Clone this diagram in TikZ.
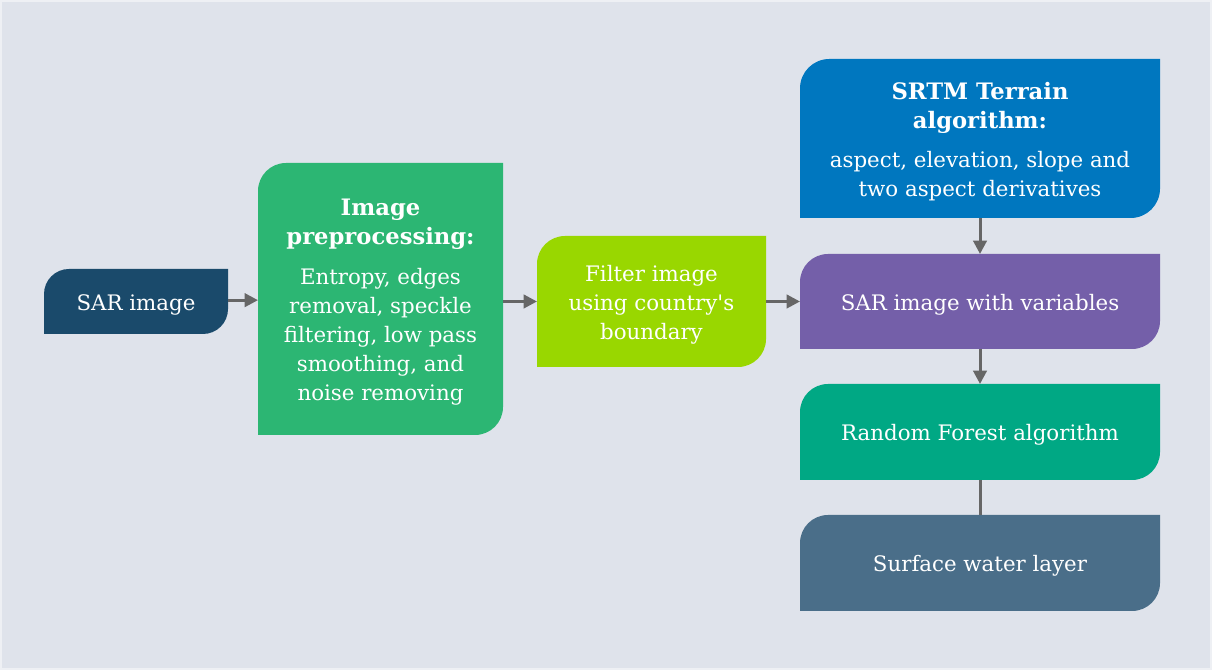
\documentclass[tikz,border=0pt]{standalone}
\usepackage{fontspec}
\setmainfont{DejaVu Serif}
\usetikzlibrary{arrows.meta,backgrounds}

\definecolor{canvas}{HTML}{DFE3EB}
\definecolor{canvasedge}{HTML}{EEF0F4}
\definecolor{sarblue}{HTML}{1A4A6B}
\definecolor{prepgreen}{HTML}{2CB673}
\definecolor{filterlime}{HTML}{99D700}
\definecolor{srtmblue}{HTML}{0077BF}
\definecolor{varpurple}{HTML}{745FA9}
\definecolor{rfgreen}{HTML}{00A884}
\definecolor{waterslate}{HTML}{4A6E89}
\definecolor{linkgray}{HTML}{666666}

% card with rounded top-left and bottom-right corners, drawn behind a node
\newcommand\leafcard[3]{%
  \fill[#2] (#1.south west) -- ([yshift=-#3]#1.north west)
    arc[start angle=180,end angle=90,radius=#3] -- (#1.north east)
    -- ([yshift=#3]#1.south east)
    arc[start angle=0,end angle=-90,radius=#3] -- cycle;}
% bold heading lines inside a card
\newcommand\cardhead[1]{{\fontsize{17}{21.75}\selectfont\bfseries #1}}

\tikzset{
  card/.style={inner sep=0pt, outer sep=0pt},
  cardtext/.style={inner sep=0pt, text=white, align=center, yshift=-2.25pt,
    font=\fontsize{16}{21.75}\selectfont},
  caption/.style={label={[cardtext]center:{#1}}},
  link/.style={draw=linkgray, line width=2.25pt},
  arrowlink/.style={link, -{Triangle[length=10pt,width=10pt]}},
}

\begin{document}
\begin{tikzpicture}[x=0.75pt,y=0.75pt]
\useasboundingbox (0,0) rectangle (1212,670);

\node[card, minimum width=138pt, minimum height=48.75pt,
  caption={SAR image}] (sar) at (136,368.5) {};
\node[card, minimum width=183.75pt, minimum height=204pt,
  caption={\cardhead{Image}\\\cardhead{preprocessing:}\\[8pt]Entropy, edges\\removal, speckle\\filtering, low pass\\smoothing, and\\noise removing}]
  (prep) at (380.5,371) {};
\node[card, minimum width=171.75pt, minimum height=98.25pt,
  caption={Filter image\\using country\textquotesingle s\\boundary}] (filt) at (651.5,368.5) {};
\node[card, minimum width=270pt, minimum height=119.25pt,
  caption={\cardhead{SRTM Terrain}\\\cardhead{algorithm:}\\[8pt]aspect, elevation, slope and\\two aspect derivatives}]
  (srtm) at (980,531.5) {};
\node[card, minimum width=270pt, minimum height=71.25pt,
  caption={SAR image with variables}] (vars) at (980,368.5) {};
\node[card, minimum width=270pt, minimum height=72pt,
  caption={Random Forest algorithm}] (rf) at (980,238) {};
\node[card, minimum width=270pt, minimum height=72pt,
  caption={Surface water layer}] (water) at (980,107) {};

\begin{scope}[on background layer]
  \fill[canvas] (0,0) rectangle (1212,670);
  \draw[canvasedge, line width=1.5pt] (1,1) rectangle (1211,669);
  \leafcard{sar}{sarblue}{18.75pt}
  \leafcard{prep}{prepgreen}{21pt}
  \leafcard{filt}{filterlime}{21pt}
  \leafcard{srtm}{srtmblue}{22pt}
  \leafcard{vars}{varpurple}{21pt}
  \leafcard{rf}{rfgreen}{21pt}
  \leafcard{water}{waterslate}{21pt}
\end{scope}

\draw[arrowlink] ([yshift=1pt]sar.east) -- ([yshift=1pt]sar.east -| prep.west);
\draw[arrowlink] (prep.east |- filt.east) -- (filt.west);
\draw[arrowlink] (filt.east) -- (vars.west);
\draw[arrowlink] (srtm.south) -- (vars.north);
\draw[arrowlink] (vars.south) -- (rf.north);
\draw[link] (rf.south) -- (water.north);
\end{tikzpicture}
\end{document}
